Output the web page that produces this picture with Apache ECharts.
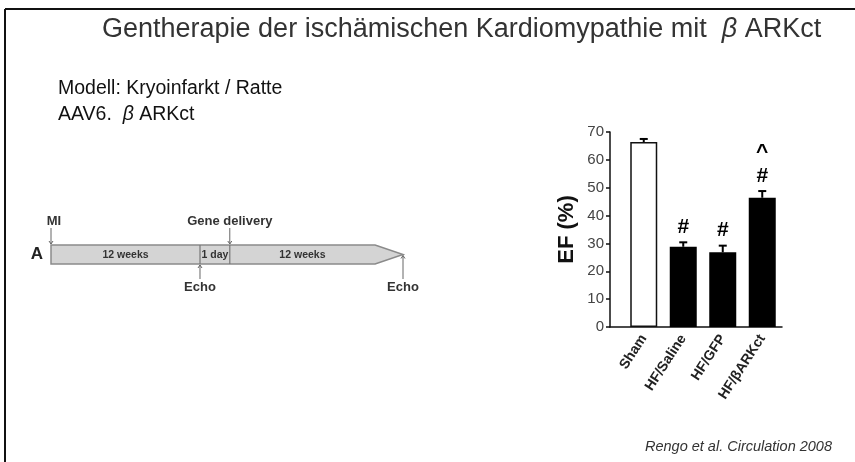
<!DOCTYPE html>
<html>
<head>
<meta charset="utf-8">
<script src="https://cdn.jsdelivr.net/npm/echarts@6/dist/echarts.min.js"></script>
<style>
html,body{margin:0;padding:0;background:#fff;}
#chart{width:855px;height:462px;}
</style>
</head>
<body>
<div id="chart"></div>
<script>
// ---- bar chart data ----
const categories = ['Sham', 'HF/Saline', 'HF/GFP', 'HF/βARKct'];
const efMean = [66.4, 28.8, 26.8, 46.4];
const efSEM = [1.1, 1.6, 2.4, 2.4];
const annotations = ['', '#', '#', '^\n#'];
const yMin = 0, yMax = 70, yStep = 10;

// ---- timeline (schematic units) ----
const phaseLabels = ['12 weeks', '1 day', '12 weeks'];
const phaseBounds = [0, 12, 14.4, 26.1];
const arrowTip = 28.35;
const eventNames = ['MI', 'Echo', 'Gene delivery', 'Echo'];
const eventAt = [0, 12, 14.4, 28.35];
const eventSide = ['top', 'bottom', 'top', 'bottom'];

const FONT = 'Liberation Sans, Arial, sans-serif';
const chart = echarts.init(document.getElementById('chart'));

const timelineItem = {
  type: 'custom',
  xAxisIndex: 2, yAxisIndex: 2,
  clip: false,
  silent: true,
  data: [[0, 0]],
  renderItem: function (params, api) {
    const children = [];
    const c = (x, y) => api.coord([x, y]);
    const last = phaseBounds[phaseBounds.length - 1];
    const pts = [c(0, 0), c(0, 1), c(last, 1), c(arrowTip, 0.5), c(last, 0)];
    children.push({type: 'polygon', shape: {points: pts},
      style: {fill: '#d4d4d4', stroke: '#8a8a8a', lineWidth: 1.5}});
    for (let i = 1; i < phaseBounds.length - 1; i++) {
      const a = c(phaseBounds[i], 0), b = c(phaseBounds[i], 1);
      children.push({type: 'line', shape: {x1: a[0], y1: a[1], x2: b[0], y2: b[1]},
        style: {stroke: '#777', lineWidth: 1.2}});
    }
    for (let i = 0; i < phaseLabels.length; i++) {
      const m = c((phaseBounds[i] + phaseBounds[i + 1]) / 2, 0.5);
      children.push({type: 'text', style: {text: phaseLabels[i], x: m[0], y: m[1] + 0.5,
        align: 'center', verticalAlign: 'middle', font: 'bold 10.5px ' + FONT, fill: '#333'}});
    }
    for (let i = 0; i < eventNames.length; i++) {
      const x = eventAt[i];
      if (eventSide[i] === 'top') {
        const p = c(x, 1);
        children.push({type: 'line', shape: {x1: p[0], y1: p[1] - 17, x2: p[0], y2: p[1] - 1},
          style: {stroke: '#666', lineWidth: 1}});
        children.push({type: 'polyline', shape: {points: [[p[0] - 2, p[1] - 4], [p[0], p[1] - 1], [p[0] + 2, p[1] - 4]]},
          style: {stroke: '#666', lineWidth: 1, fill: null}});
        children.push({type: 'text', style: {text: eventNames[i], x: p[0] + (i === 0 ? 3 : 0), y: p[1] - 17,
          align: 'center', verticalAlign: 'bottom', font: 'bold 13px ' + FONT, fill: '#333'}});
      } else {
        const p = x === arrowTip ? c(x, 0.5) : c(x, 0);
        const yb = c(x, 0)[1];
        children.push({type: 'line', shape: {x1: p[0], y1: p[1] + 1, x2: p[0], y2: yb + 15},
          style: {stroke: '#666', lineWidth: 1}});
        children.push({type: 'polyline', shape: {points: [[p[0] - 2, p[1] + 4], [p[0], p[1] + 1], [p[0] + 2, p[1] + 4]]},
          style: {stroke: '#666', lineWidth: 1, fill: null}});
        children.push({type: 'text', style: {text: eventNames[i], x: p[0], y: yb + 17,
          align: 'center', verticalAlign: 'top', font: 'bold 13px ' + FONT, fill: '#333'}});
      }
    }
    const s = c(0, 0.5);
    children.push({type: 'text', style: {text: 'A', x: s[0] - 8, y: s[1],
      align: 'right', verticalAlign: 'middle', font: 'bold 17px ' + FONT, fill: '#222'}});
    return {type: 'group', children: children};
  }
};

const option = {
  backgroundColor: '#fff',
  animation: false,
  title: [
    {text: 'Gentherapie der ischämischen Kardiomypathie mit  {b|β} ARKct', left: 97, top: 11,
      textStyle: {fontFamily: FONT, fontSize: 27, fontWeight: 'normal', color: '#333',
        rich: {b: {fontFamily: FONT, fontSize: 27, fontStyle: 'italic', color: '#333'}}}},
    {text: 'Modell: Kryoinfarkt / Ratte\nAAV6.  {b|β} ARKct', left: 53, top: 71,
      textStyle: {fontFamily: FONT, fontSize: 19.5, fontWeight: 'normal', color: '#111', lineHeight: 26,
        rich: {b: {fontFamily: FONT, fontSize: 19.5, fontStyle: 'italic', color: '#111', lineHeight: 26}}}},
    {text: 'Rengo et al. Circulation 2008', right: 18, top: 434,
      textStyle: {fontFamily: FONT, fontSize: 14.5, fontStyle: 'italic', fontWeight: 'normal', color: '#333'}}
  ],
  graphic: [
    {type: 'line', shape: {x1: 5, y1: 9, x2: 855, y2: 9}, style: {stroke: '#111', lineWidth: 2}},
    {type: 'line', shape: {x1: 5, y1: 9, x2: 5, y2: 462}, style: {stroke: '#111', lineWidth: 2}}
  ],
  grid: [
    {left: 624, right: 73, top: 132, bottom: 135},
    {left: 610, right: 73, top: 132, bottom: 135},
    {left: 51, right: 452, top: 245, bottom: 198}
  ],
  xAxis: [
    {type: 'category', gridIndex: 0, data: categories,
      axisLine: {show: false}, axisTick: {show: false},
      axisLabel: {rotate: 57, margin: 9, fontFamily: FONT, fontSize: 14, fontWeight: 'bold', color: '#222'}},
    {type: 'value', gridIndex: 1, min: 0, max: 1,
      axisLine: {show: true, lineStyle: {color: '#111', width: 1.5}},
      axisTick: {show: false}, axisLabel: {show: false}, splitLine: {show: false}},
    {type: 'value', gridIndex: 2, min: 0, max: arrowTip, show: false}
  ],
  yAxis: [
    {type: 'value', gridIndex: 0, min: yMin, max: yMax, show: false},
    {type: 'value', gridIndex: 1, min: yMin, max: yMax, interval: yStep,
      name: 'EF (%)', nameLocation: 'middle', nameGap: 32,
      nameTextStyle: {fontFamily: FONT, fontSize: 22, fontWeight: 'bold', color: '#111'},
      axisLine: {show: true, lineStyle: {color: '#111', width: 1.5}},
      axisTick: {show: true, length: 4, lineStyle: {color: '#111', width: 1.5}},
      axisLabel: {fontFamily: FONT, fontSize: 15, color: '#444', margin: 6},
      splitLine: {show: false}},
    {type: 'value', gridIndex: 2, min: 0, max: 1, show: false}
  ],
  series: [
    {type: 'bar', xAxisIndex: 0, yAxisIndex: 0, barWidth: 27,
      data: efMean.map((v, i) => ({value: v, itemStyle: i === 0
        ? {color: '#fff', borderColor: '#111', borderWidth: 1.5}
        : {color: '#000'}}))},
    {type: 'custom', xAxisIndex: 0, yAxisIndex: 0, clip: false,
      data: efMean.map((v, i) => [i, v, efSEM[i]]),
      renderItem: function (params, api) {
        const i = api.value(0), m = api.value(1), e = api.value(2);
        const p0 = api.coord([i, m]), p1 = api.coord([i, m + e]);
        const ch = [
          {type: 'line', shape: {x1: p0[0], y1: p0[1], x2: p1[0], y2: p1[1]}, style: {stroke: '#000', lineWidth: 2}},
          {type: 'line', shape: {x1: p1[0] - 4, y1: p1[1], x2: p1[0] + 4, y2: p1[1]}, style: {stroke: '#000', lineWidth: 2}}
        ];
        const t = annotations[params.dataIndex];
        if (t) {
          ch.push({type: 'text', style: {text: t, x: p1[0], y: p1[1] - 3, align: 'center',
            verticalAlign: 'bottom', font: 'bold 21px ' + FONT, lineHeight: 24, fill: '#000'}});
        }
        return {type: 'group', children: ch};
      }},
    timelineItem
  ]
};
chart.setOption(option);
</script>
</body>
</html>
